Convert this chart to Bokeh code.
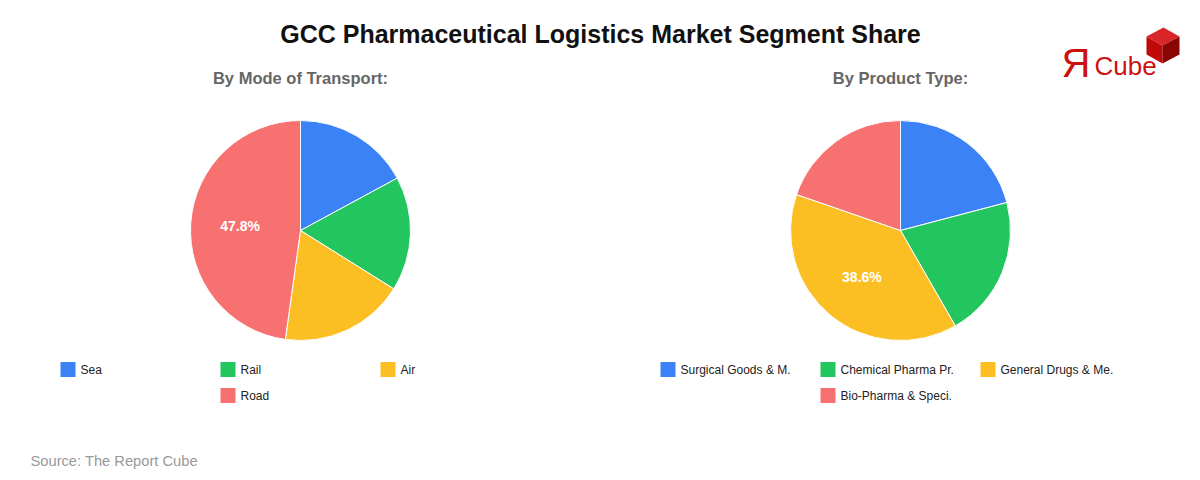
import math
from bokeh.plotting import figure
from bokeh.models import Range1d, Label, ColumnDataSource
from bokeh.embed import file_html
from bokeh.resources import INLINE

# ---- data ----
title = "GCC Pharmaceutical Logistics Market Segment Share"
transport_title = "By Mode of Transport:"
transport_labels = ["Sea", "Rail", "Air", "Road"]
transport_values = [17.1, 16.8, 18.3, 47.8]
product_title = "By Product Type:"
product_labels = ["Surgical Goods & M.", "Chemical Pharma Pr.", "General Drugs & Me.", "Bio-Pharma & Speci."]
product_values = [20.9, 20.8, 38.6, 19.7]
colors = ["#3b82f6", "#22c55e", "#fbbf24", "#f87171"]
source_text = "Source: The Report Cube"

W, H = 1200, 480
FONT = "Liberation Sans"

p = figure(width=W, height=H, output_backend="svg", toolbar_location=None,
           x_range=Range1d(0, W), y_range=Range1d(0, H), min_border=0)
p.axis.visible = False
p.grid.visible = False
p.outline_line_color = None
p.background_fill_color = "white"
p.border_fill_color = "white"


def Y(py):
    return H - py


def add_label(x, y, text, size, color, bold=False, align="left", baseline="middle"):
    p.add_layout(Label(x=x, y=Y(y), text=text, text_font=FONT,
                       text_font_size=f"{size}px", text_color=color,
                       text_font_style="bold" if bold else "normal",
                       text_align=align, text_baseline=baseline))


add_label(600, 33, title, 25, "#111111", bold=True, align="center")


def draw_pie(cx, cy, r, labels, values, subtitle, legend_x0):
    add_label(cx, 77, subtitle, 16.5, "#666666", bold=True, align="center")
    total = sum(values)
    starts, ends = [], []
    cum = 0.0
    for v in values:
        a0 = math.pi / 2 - 2 * math.pi * cum / total
        cum += v
        a1 = math.pi / 2 - 2 * math.pi * cum / total
        starts.append(a1)
        ends.append(a0)
    src = ColumnDataSource(dict(start=starts, end=ends, color=colors[:len(values)]))
    p.wedge(x=cx, y=Y(cy), radius=r, start_angle="start", end_angle="end",
            direction="anticlock", fill_color="color", line_color="white",
            line_width=1, source=src)
    # percentage labels on large slices
    for s, e, v in zip(starts, ends, values):
        if v / total > 0.25:
            mid = (s + e) / 2
            lr = r * 0.55
            p.add_layout(Label(x=cx + lr * math.cos(mid), y=Y(cy) + lr * math.sin(mid),
                               text=f"{v:.1f}%", text_font=FONT, text_font_size="14px",
                               text_font_style="bold", text_color="white",
                               text_align="center", text_baseline="middle"))
    # legend
    ncol = 3
    colw = 160
    rows = [list(range(i, min(i + ncol, len(labels)))) for i in range(0, len(labels), ncol)]
    xs, ys, cs = [], [], []
    for ri, row in enumerate(rows):
        off = (ncol - len(row)) / 2
        for ci, idx in enumerate(row):
            lx = legend_x0 + (ci + off) * colw
            ly = 369 + ri * 26
            xs.append(lx + 7.5)
            ys.append(Y(ly))
            cs.append(colors[idx])
            add_label(lx + 20, ly, labels[idx], 12, "#222222")
    p.rect(x=xs, y=ys, width=15, height=15, fill_color=cs, line_color=None)


draw_pie(300, 230, 110, transport_labels, transport_values, transport_title, 60)
draw_pie(900, 230, 110, product_labels, product_values, product_title, 660)

add_label(30, 460, source_text, 14.7, "#999999")

# logo
add_label(1061, 62, "\u042f", 40, "#cc1111")
add_label(1094, 65, "Cube", 26, "#cc1111")
top = [(1146, 36), (1163, 27), (1179, 36), (1162, 45)]
left = [(1146, 36), (1162, 45), (1162, 63), (1146, 54)]
right = [(1162, 45), (1179, 36), (1179, 54), (1162, 63)]
faces = [top, left, right]
face_colors = ["#d8262a", "#c00a0a", "#8a0505"]
p.patches(xs=[[pt[0] for pt in f] for f in faces], ys=[[Y(pt[1]) for pt in f] for f in faces],
          fill_color=face_colors, line_color=None)

open("out.html", "w").write(file_html(p, INLINE))
